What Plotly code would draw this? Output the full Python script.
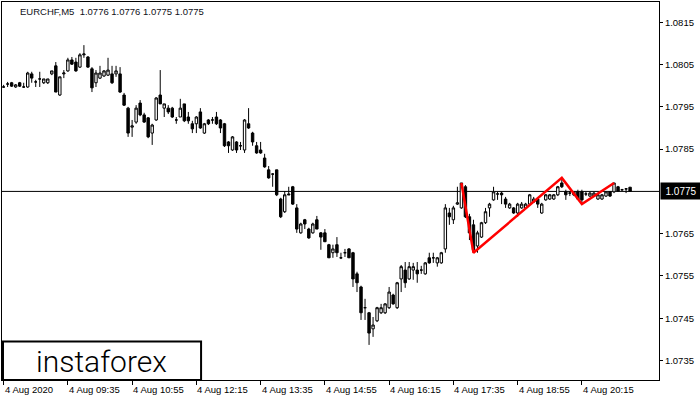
import pandas as pd
import plotly.graph_objects as go

# ---- data (EURCHF M5, 4 Aug 2020) ----
times = pd.date_range("2020-08-04 08:15", periods=157, freq="5min")

open_ = [
    1.07997, 1.08004, 1.08007, 1.07997, 1.08007, 1.07997, 1.07997, 1.08028, 1.08009, 1.08016,
    1.08007, 1.08007, 1.08028, 1.08047, 1.07978, 1.08028, 1.08035, 1.08061, 1.08056, 1.08044,
    1.08073, 1.08068, 1.08040, 1.08007, 1.08018, 1.08023, 1.08025, 1.08028, 1.08028, 1.08028,
    1.07978, 1.07947, 1.07902, 1.07914, 1.07959, 1.07931, 1.07924, 1.07888, 1.07919, 1.07978,
    1.07947, 1.07947, 1.07947, 1.07919, 1.07926, 1.07957, 1.07926, 1.07910, 1.07910, 1.07938,
    1.07888, 1.07919, 1.07919, 1.07926, 1.07919, 1.07910, 1.07867, 1.07848, 1.07867, 1.07858,
    1.07848, 1.07910, 1.07888, 1.07858, 1.07848, 1.07829, 1.07801, 1.07791, 1.07801, 1.07732,
    1.07702, 1.07744, 1.07761, 1.07711, 1.07652, 1.07683, 1.07661, 1.07652, 1.07683, 1.07652,
    1.07652, 1.07624, 1.07605, 1.07624, 1.07593, 1.07605, 1.07614, 1.07605, 1.07555, 1.07524,
    1.07475, 1.07463, 1.07425, 1.07444, 1.07463, 1.07463, 1.07475, 1.07505, 1.07475, 1.07543,
    1.07564, 1.07543, 1.07564, 1.07564, 1.07564, 1.07555, 1.07593, 1.07593, 1.07581, 1.07581,
    1.07614, 1.07699, 1.07683, 1.07720, 1.07711, 1.07761, 1.07690, 1.07671, 1.07621, 1.07642,
    1.07676, 1.07711, 1.07730, 1.07744, 1.07746, 1.07732, 1.07711, 1.07711, 1.07699, 1.07711,
    1.07711, 1.07720, 1.07725, 1.07732, 1.07699, 1.07730, 1.07732, 1.07732, 1.07742, 1.07770,
    1.07749, 1.07746, 1.07742, 1.07749, 1.07749, 1.07744, 1.07739, 1.07739, 1.07732, 1.07732,
    1.07739, 1.07749, 1.07749, 1.07761, 1.07754, 1.07756, 1.07760,
]
high = [
    1.08002, 1.08009, 1.08009, 1.08004, 1.08009, 1.08007, 1.08033, 1.08033, 1.08014, 1.08033,
    1.08016, 1.08016, 1.08035, 1.08056, 1.08021, 1.08037, 1.08066, 1.08068, 1.08066, 1.08077,
    1.08096, 1.08070, 1.08044, 1.08037, 1.08047, 1.08037, 1.08066, 1.08047, 1.08047, 1.08044,
    1.07983, 1.07950, 1.07919, 1.07954, 1.07966, 1.07936, 1.07926, 1.07910, 1.07973, 1.08037,
    1.07957, 1.07954, 1.07950, 1.07926, 1.07969, 1.07957, 1.07938, 1.07917, 1.07928, 1.07947,
    1.07912, 1.07921, 1.07926, 1.07938, 1.07921, 1.07912, 1.07869, 1.07881, 1.07869, 1.07867,
    1.07921, 1.07947, 1.07891, 1.07867, 1.07867, 1.07839, 1.07810, 1.07793, 1.07801, 1.07735,
    1.07751, 1.07761, 1.07763, 1.07720, 1.07676, 1.07685, 1.07664, 1.07676, 1.07692, 1.07654,
    1.07661, 1.07626, 1.07624, 1.07642, 1.07605, 1.07614, 1.07616, 1.07607, 1.07560, 1.07527,
    1.07496, 1.07465, 1.07453, 1.07477, 1.07484, 1.07486, 1.07524, 1.07508, 1.07536, 1.07576,
    1.07583, 1.07583, 1.07581, 1.07583, 1.07574, 1.07583, 1.07605, 1.07605, 1.07595, 1.07607,
    1.07720, 1.07711, 1.07716, 1.07761, 1.07770, 1.07765, 1.07697, 1.07683, 1.07657, 1.07678,
    1.07711, 1.07723, 1.07761, 1.07749, 1.07749, 1.07737, 1.07723, 1.07713, 1.07723, 1.07725,
    1.07723, 1.07744, 1.07737, 1.07735, 1.07723, 1.07744, 1.07744, 1.07744, 1.07763, 1.07782,
    1.07754, 1.07751, 1.07751, 1.07754, 1.07754, 1.07749, 1.07749, 1.07749, 1.07744, 1.07744,
    1.07751, 1.07751, 1.07770, 1.07763, 1.07756, 1.07758, 1.07760,
]
low = [
    1.07995, 1.07997, 1.07997, 1.07995, 1.07997, 1.07995, 1.07995, 1.08007, 1.07997, 1.07997,
    1.08004, 1.08004, 1.08025, 1.07985, 1.07976, 1.08018, 1.08033, 1.08049, 1.08033, 1.08042,
    1.08066, 1.08042, 1.07985, 1.07997, 1.08016, 1.08021, 1.08023, 1.08004, 1.08021, 1.07983,
    1.07952, 1.07879, 1.07879, 1.07910, 1.07928, 1.07912, 1.07876, 1.07860, 1.07917, 1.07957,
    1.07926, 1.07933, 1.07924, 1.07910, 1.07926, 1.07914, 1.07910, 1.07888, 1.07888, 1.07898,
    1.07886, 1.07907, 1.07910, 1.07907, 1.07888, 1.07855, 1.07841, 1.07846, 1.07841, 1.07848,
    1.07841, 1.07898, 1.07858, 1.07839, 1.07839, 1.07806, 1.07780, 1.07761, 1.07739, 1.07687,
    1.07699, 1.07742, 1.07718, 1.07652, 1.07650, 1.07661, 1.07638, 1.07650, 1.07661, 1.07612,
    1.07631, 1.07593, 1.07593, 1.07595, 1.07590, 1.07595, 1.07593, 1.07524, 1.07512, 1.07446,
    1.07446, 1.07387, 1.07406, 1.07441, 1.07460, 1.07460, 1.07472, 1.07482, 1.07472, 1.07512,
    1.07522, 1.07541, 1.07541, 1.07534, 1.07555, 1.07553, 1.07579, 1.07581, 1.07572, 1.07579,
    1.07605, 1.07671, 1.07673, 1.07718, 1.07709, 1.07687, 1.07635, 1.07605, 1.07605, 1.07640,
    1.07673, 1.07690, 1.07728, 1.07730, 1.07720, 1.07711, 1.07709, 1.07697, 1.07690, 1.07709,
    1.07709, 1.07718, 1.07723, 1.07711, 1.07697, 1.07728, 1.07730, 1.07730, 1.07739, 1.07758,
    1.07730, 1.07739, 1.07739, 1.07730, 1.07720, 1.07739, 1.07737, 1.07737, 1.07730, 1.07730,
    1.07737, 1.07737, 1.07746, 1.07749, 1.07751, 1.07746, 1.07750,
]
close = [
    1.07997, 1.08004, 1.07999, 1.08002, 1.07999, 1.07997, 1.08030, 1.08018, 1.08009, 1.08016,
    1.08016, 1.08016, 1.08035, 1.07985, 1.08021, 1.08030, 1.08061, 1.08051, 1.08035, 1.08073,
    1.08075, 1.08044, 1.07995, 1.08030, 1.08030, 1.08035, 1.08037, 1.08007, 1.08035, 1.07985,
    1.07954, 1.07888, 1.07905, 1.07947, 1.07931, 1.07914, 1.07879, 1.07907, 1.07971, 1.07957,
    1.07957, 1.07938, 1.07926, 1.07919, 1.07947, 1.07917, 1.07917, 1.07898, 1.07926, 1.07900,
    1.07910, 1.07910, 1.07919, 1.07910, 1.07900, 1.07858, 1.07858, 1.07879, 1.07848, 1.07858,
    1.07919, 1.07900, 1.07867, 1.07841, 1.07841, 1.07808, 1.07782, 1.07791, 1.07742, 1.07690,
    1.07742, 1.07742, 1.07720, 1.07661, 1.07673, 1.07673, 1.07640, 1.07673, 1.07661, 1.07642,
    1.07631, 1.07593, 1.07614, 1.07605, 1.07593, 1.07605, 1.07593, 1.07543, 1.07534, 1.07463,
    1.07475, 1.07415, 1.07434, 1.07475, 1.07475, 1.07484, 1.07512, 1.07484, 1.07534, 1.07572,
    1.07534, 1.07572, 1.07572, 1.07555, 1.07564, 1.07581, 1.07581, 1.07593, 1.07593, 1.07605,
    1.07711, 1.07690, 1.07711, 1.07723, 1.07770, 1.07690, 1.07652, 1.07612, 1.07652, 1.07676,
    1.07702, 1.07720, 1.07749, 1.07744, 1.07742, 1.07720, 1.07720, 1.07699, 1.07720, 1.07720,
    1.07720, 1.07742, 1.07732, 1.07720, 1.07720, 1.07742, 1.07742, 1.07742, 1.07761, 1.07761,
    1.07742, 1.07746, 1.07749, 1.07732, 1.07730, 1.07744, 1.07746, 1.07746, 1.07742, 1.07742,
    1.07749, 1.07739, 1.07770, 1.07751, 1.07754, 1.07756, 1.07750,
]

# pattern (red zig-zag)
pattern_times = ["2020-08-04 17:45", "2020-08-04 18:00", "2020-08-04 19:50",
                 "2020-08-04 20:15", "2020-08-04 20:55"]
pattern_prices = [1.07770, 1.07605, 1.07782, 1.07720, 1.07770]

current_price = 1.0775
y_ticks = [1.0735, 1.0745, 1.0755, 1.0765, 1.0785, 1.0795, 1.0805, 1.0815]
x_tick_times = ["2020-08-04 08:15", "2020-08-04 09:35", "2020-08-04 10:55",
                "2020-08-04 12:15", "2020-08-04 13:35", "2020-08-04 14:55",
                "2020-08-04 16:15", "2020-08-04 17:35", "2020-08-04 18:55",
                "2020-08-04 20:15"]
x_tick_labels = ["4 Aug 2020", "4 Aug 09:35", "4 Aug 10:55", "4 Aug 12:15",
                 "4 Aug 13:35", "4 Aug 14:55", "4 Aug 16:15", "4 Aug 17:35",
                 "4 Aug 18:55", "4 Aug 20:15"]
header = "EURCHF,M5  1.0776 1.0776 1.0775 1.0775"

FONT = "Liberation Sans"

fig = go.Figure()
fig.add_trace(go.Candlestick(
    x=times, open=open_, high=high, low=low, close=close,
    increasing=dict(line=dict(color="black", width=1), fillcolor="white"),
    decreasing=dict(line=dict(color="black", width=1), fillcolor="black"),
    whiskerwidth=0, showlegend=False, hoverinfo="skip",
))
fig.add_trace(go.Scatter(
    x=pattern_times, y=pattern_prices, mode="lines",
    line=dict(color="#ff0000", width=2.5), showlegend=False, hoverinfo="skip",
))

fig.add_shape(type="line", xref="paper", x0=0, x1=1, yref="y",
              y0=current_price, y1=current_price,
              line=dict(color="black", width=1), layer="below")

# logo box
fig.add_shape(type="rect", xref="paper", yref="paper",
              x0=0.0015, x1=0.303, y0=0.0, y1=0.102,
              fillcolor="white", line=dict(color="black", width=2), layer="above")
fig.add_annotation(xref="paper", yref="paper", x=0.151, y=0.05,
                   text="instaforex", showarrow=False,
                   font=dict(family="Roboto", size=30, color="black", weight=300),
                   xanchor="center", yanchor="middle")

# header
fig.add_annotation(xref="paper", yref="paper", x=0.0244, y=0.974,
                   text=header, showarrow=False,
                   font=dict(family=FONT, size=9.5, color="#101018"),
                   xanchor="left", yanchor="middle")

# current price box
fig.add_annotation(xref="paper", yref="y", x=1, y=current_price,
                   text="1.0775", showarrow=False, bgcolor="black",
                   font=dict(family=FONT, size=10, color="white"),
                   xanchor="left", yanchor="middle", width=38, height=14,
                   align="center", borderpad=1, xshift=1)

# x tick labels (left aligned at ticks, MT4 style)
for t, lab in zip(x_tick_times, x_tick_labels):
    fig.add_annotation(xref="x", yref="paper", x=t, y=0, text=lab,
                       showarrow=False, xanchor="left", yanchor="top",
                       yshift=-2, xshift=-1,
                       font=dict(family=FONT, size=9.5, color="black"))

fig.update_layout(
    width=700, height=400,
    margin=dict(l=2, r=41, t=2, b=20),
    paper_bgcolor="white", plot_bgcolor="white",
    boxgap=0.4, boxgroupgap=0,
    showlegend=False,
    hovermode=False,
    xaxis=dict(
        type="date",
        range=["2020-08-04 08:13", "2020-08-04 21:51"],
        rangeslider=dict(visible=False),
        showgrid=False, zeroline=False,
        showline=True, linecolor="black", linewidth=1, mirror=True,
        tickvals=x_tick_times, showticklabels=False,
        ticks="outside", ticklen=4, tickcolor="black", tickwidth=1,
    ),
    yaxis=dict(
        side="right",
        range=[1.07304, 1.08198],
        showgrid=False, zeroline=False,
        showline=True, linecolor="black", linewidth=1, mirror=True,
        tickvals=y_ticks, ticktext=[f"{v:.4f}" for v in y_ticks],
        ticks="outside", ticklen=3, tickcolor="black", tickwidth=1,
        tickfont=dict(family=FONT, size=9.5, color="black"),
        automargin=False,
    ),
)

fig.write_html("out.html", config={"displayModeBar": False},
               post_script="document.body.style.margin='0px';")
